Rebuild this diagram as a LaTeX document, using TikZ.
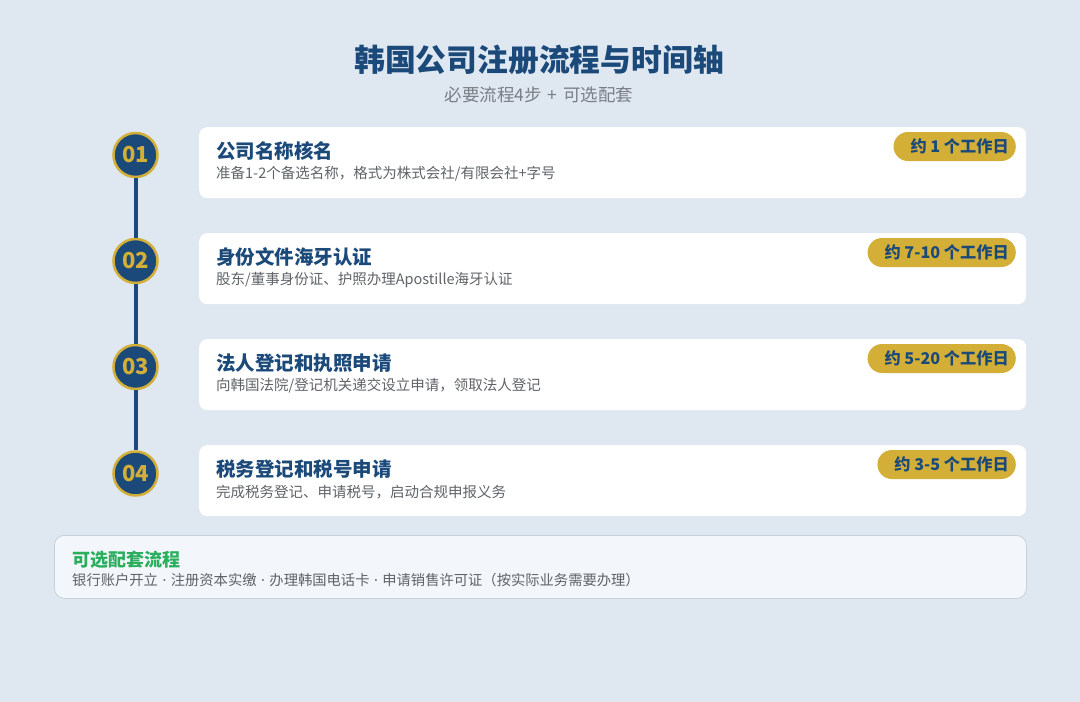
\documentclass[tikz,border=0pt]{standalone}
\usepackage{fontspec}
\setmainfont{Noto Sans CJK SC}
\newfontfamily\latinf{Noto Sans}
\definecolor{bgc}{HTML}{DFE7F0}
\definecolor{navy}{HTML}{1B4A7A}
\definecolor{gold}{HTML}{D4AF37}
\definecolor{txtgray}{HTML}{5F6368}
\definecolor{subgray}{HTML}{7A7F86}
\definecolor{grn}{HTML}{2BAE5E}
\definecolor{optfill}{HTML}{F3F7FB}
\definecolor{optline}{HTML}{C4D2E0}
\newcommand{\sepdot}{\hspace{4.5pt}{\latinf ·}\hspace{4.5pt}}
\tikzset{
  x=1pt, y=-1pt,
  stepnum/.style={circle, fill=navy, draw=gold, line width=2.5pt, minimum size=44pt, inner sep=0pt,
    text=gold, font=\fontsize{22}{24}\selectfont\bfseries},
  card/.style={fill=white, rounded corners=8pt, minimum width=827pt, minimum height=71pt, inner sep=0pt, anchor=north west},
  ctitle/.style={anchor=west, inner sep=0pt, text=navy, font=\fontsize{19.5}{22}\selectfont\bfseries},
  cdesc/.style={anchor=west, inner sep=0pt, text=txtgray, font=\fontsize{14.5}{17}\selectfont},
  badge/.style={anchor=east, fill=gold, rounded corners=14.5pt, minimum height=29pt, inner ysep=0pt, inner xsep=7pt,
    text=navy, font=\fontsize{16.2}{18}\selectfont\bfseries},
  tline/.style={draw=navy, line width=4pt},
}
\begin{document}
\begin{tikzpicture}
\fill[bgc] (0,0) rectangle (1080,702);
\useasboundingbox (0,0) rectangle (1080,702);
% title
\node[inner sep=0pt, text=navy, font=\fontsize{30.8}{34}\selectfont\bfseries] (title) at (539,60) {韩国公司注册流程与时间轴};
\node[inner sep=0pt, text=subgray, font=\fontsize{17.5}{20}\selectfont] (sub) at (539,95) {必要流程4步\hspace{6pt}+\hspace{6pt}可选配套};
% circles
\node[stepnum] (n1) at (135.5,155) {01};
\node[stepnum] (n2) at (135.5,261) {02};
\node[stepnum] (n3) at (135.5,367) {03};
\node[stepnum] (n4) at (135.5,473.5) {04};
\draw[tline] (n1) -- (n2);
\draw[tline] (n2) -- (n3);
\draw[tline] (n3) -- (n4);
% cards
\node[card] (c1) at (199,127) {};
\node[card] (c2) at (199,233) {};
\node[card] (c3) at (199,339) {};
\node[card] (c4) at (199,445) {};
\node[ctitle] (t1) at (216,151) {公司名称核名};
\node[cdesc] (d1) at (216,174) {准备1-2个备选名称，格式为株式会社/有限会社+字号};
\node[ctitle] (t2) at (216,257) {身份文件海牙认证};
\node[cdesc] (d2) at (216,280) {股东/董事身份证、护照办理Apostille海牙认证};
\node[ctitle] (t3) at (216,363) {法人登记和执照申请};
\node[cdesc] (d3) at (216,386) {向韩国法院/登记机关递交设立申请，领取法人登记};
\node[ctitle] (t4) at (216,469) {税务登记和税号申请};
\node[cdesc] (d4) at (216,492) {完成税务登记、申请税号，启动合规申报义务};
% badges
\node[badge] (b1) at (1016,146.5) {\hspace{10pt}约 1 个工作日};
\node[badge] (b2) at (1016,252.5) {\hspace{10pt}约 7-10 个工作日};
\node[badge] (b3) at (1016,358.5) {\hspace{10pt}约 5-20 个工作日};
\node[badge] (b4) at (1016,464.5) {\hspace{10pt}约 3-5 个工作日};
% optional box
\node[fill=optfill, draw=optline, line width=0.8pt, rounded corners=10pt, minimum width=972pt, minimum height=63pt,
  inner sep=0pt, anchor=north west] (opt) at (54,535) {};
\node[inner sep=0pt, anchor=west, text=grn, font=\fontsize{18}{20}\selectfont\bfseries] (ot) at (72,559.5) {可选配套流程};
\node[inner sep=0pt, anchor=west, text=txtgray, font=\fontsize{14.3}{17}\selectfont] (od) at (72,580.5) {银行账户开立\sepdot 注册资本实缴\sepdot 办理韩国电话卡\sepdot 申请销售许可证（按实际业务需要办理）};
\end{tikzpicture}
\end{document}
